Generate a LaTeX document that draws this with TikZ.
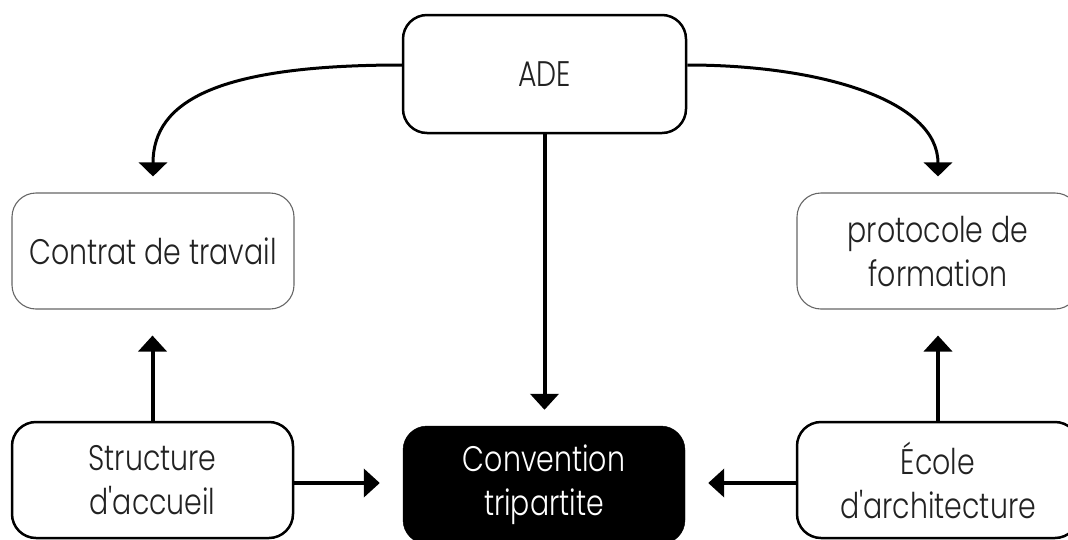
\documentclass[tikz,border=0pt]{standalone}
\usepackage{fontspec}
\setmainfont{Poppins}[UprightFont=* Light,FakeStretch=0.8,Ligatures=TeXOff]
\usetikzlibrary{arrows.meta,calc}
\definecolor{txt}{HTML}{222222}
\begin{document}
\begin{tikzpicture}[x=1pt,y=-1pt,
  box/.style={rectangle,rounded corners=24pt,inner sep=0pt,minimum width=282pt,minimum height=116pt,align=center,font=\fontsize{35.5}{44}\selectfont,text=txt},
  strongbox/.style={box,draw=black,line width=2.5pt},
  lightbox/.style={box,draw=black!60,line width=1.1pt},
  darkbox/.style={box,fill=black,draw=black,text=white},
  arr/.style={line width=4pt,-{Triangle[width=28pt,length=16pt]}},
  carr/.style={line width=3pt,-{Triangle[width=28pt,length=14pt]}}]
\useasboundingbox (0,0) rectangle (1068,539);
\node[strongbox,minimum width=283pt,minimum height=118pt] (ade) at (544.5,74) {ADE};
\node[lightbox] (contrat) at (153,251) {Contrat de travail};
\node[lightbox] (proto) at (938,251) {protocole de\\formation};
\node[strongbox,minimum width=281pt] (struct) at (152.5,480) {Structure\\d'accueil};
\node[darkbox,minimum height=118pt] (conv) at (544,485) {Convention\\tripartite};
\node[strongbox] (ecole) at (938,480) {École\\d'architecture};
\draw[arr,shorten >=16pt] (ade.south) -- (ade.south |- conv.north);
\draw[arr,shorten >=26pt] (struct.north) -- (struct.north |- contrat.south);
\draw[arr,shorten >=26pt] (ecole.north) -- (ecole.north |- proto.south);
\draw[arr,shorten >=23pt] ([yshift=-3pt]struct.east) -- ([yshift=-3pt]struct.east -| conv.west);
\draw[arr,shorten >=23pt] ([yshift=-3pt]ecole.west) -- ([yshift=-3pt]ecole.west -| conv.east);
\draw[carr,shorten >=16pt] ([yshift=9pt]ade.west) .. controls (220,65) and (153,100) .. (contrat.north);
\draw[carr,shorten >=16pt] ([yshift=9pt]ade.east) .. controls (820,65) and (938,100) .. (proto.north);
\end{tikzpicture}
\end{document}
